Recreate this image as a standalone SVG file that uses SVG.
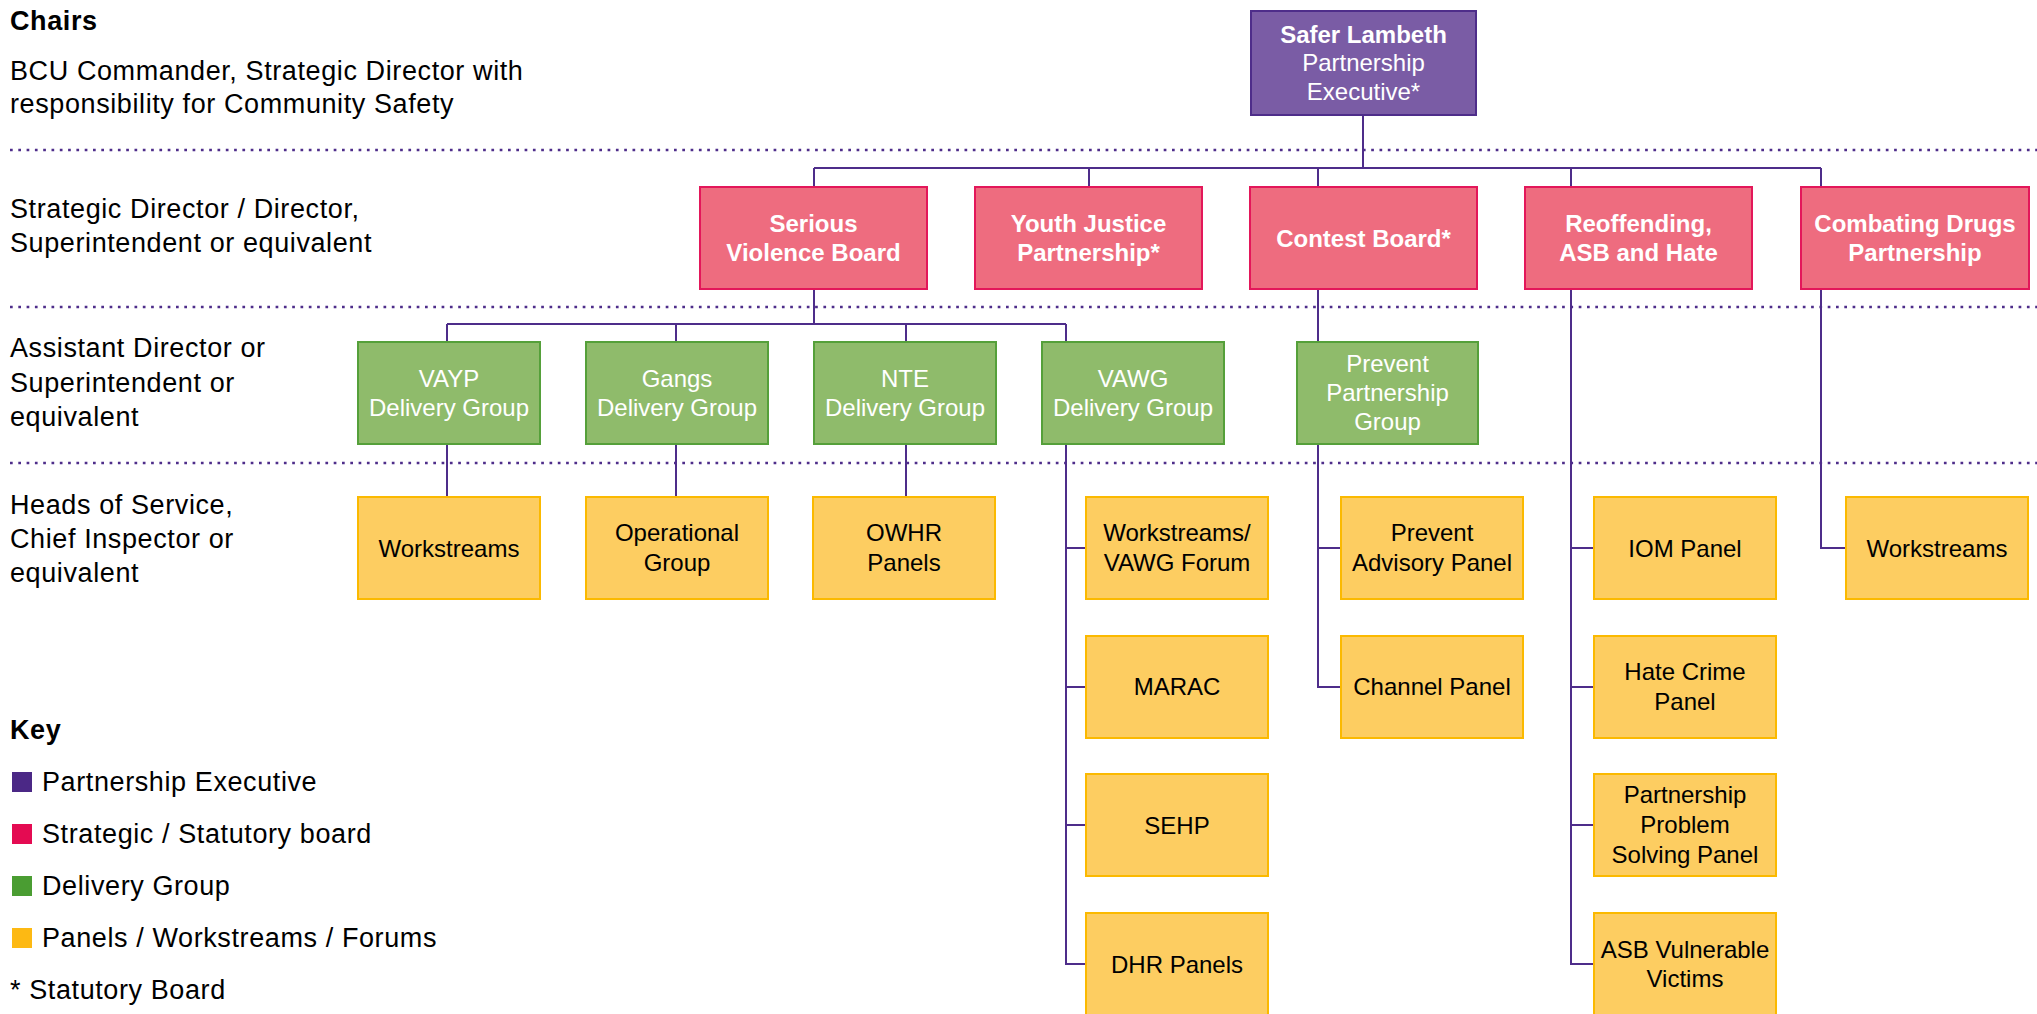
<svg xmlns="http://www.w3.org/2000/svg" width="2037" height="1014" viewBox="0 0 2037 1014">
<style>
  text { font-family: "Liberation Sans", Arial, sans-serif; }
  .lbl { font-size: 27px; fill: #000; letter-spacing: 0.6px; }
  .b { font-weight: bold; }
  .nt { font-size: 24px; text-anchor: middle; }
  .w { fill: #fff; }
  .k { fill: #000; }
  .exec { fill: #7A5CA5; stroke: #4E2D8A; stroke-width: 2; }
  .board { fill: #EE6C7F; stroke: #E3175A; stroke-width: 2; }
  .dg { fill: #8FBB6B; stroke: #55A03A; stroke-width: 2; }
  .pan { fill: #FDCD61; stroke: #FBB900; stroke-width: 2; }
  .conn { fill: none; stroke: #4E2D8A; stroke-width: 2; }
  .dot { fill: none; stroke: #4E2D8A; stroke-width: 2.7; stroke-dasharray: 2.7 5.6; }
</style>
<rect width="2037" height="1014" fill="#fff"/>

<g id="tiers">
  <line class="dot" x1="10" y1="150" x2="2037" y2="150"/>
  <line class="dot" x1="10" y1="307" x2="2037" y2="307"/>
  <line class="dot" x1="10" y1="463" x2="2037" y2="463"/>
  <text class="lbl b" x="10" y="30">Chairs</text>
  <text class="lbl" x="10" y="80">BCU Commander, Strategic Director with</text>
  <text class="lbl" x="10" y="113">responsibility for Community Safety</text>
  <text class="lbl" x="10" y="218">Strategic Director / Director,</text>
  <text class="lbl" x="10" y="252">Superintendent or equivalent</text>
  <text class="lbl" x="10" y="357">Assistant Director or</text>
  <text class="lbl" x="10" y="392">Superintendent or</text>
  <text class="lbl" x="10" y="426">equivalent</text>
  <text class="lbl" x="10" y="514">Heads of Service,</text>
  <text class="lbl" x="10" y="548">Chief Inspector or</text>
  <text class="lbl" x="10" y="582">equivalent</text>
</g>

<g id="connectors">
  <path class="conn" d="M1363 116 V168 M814 168 H1821 M814 168 V187 M1089 168 V187"/>
  <path class="conn" d="M1318 168 V687 H1341 M1318 548 H1341"/>
  <path class="conn" d="M1571 168 V964 H1594 M1571 548 H1594 M1571 687 H1594 M1571 825 H1594"/>
  <path class="conn" d="M1821 168 V548 H1846"/>
  <path class="conn" d="M814 289 V324 M447 324 H1066 M447 324 V342 M676 324 V342 M906 324 V342"/>
  <path class="conn" d="M1066 324 V964 H1086 M1066 548 H1086 M1066 687 H1086 M1066 825 H1086"/>
  <path class="conn" d="M447 444 V497 M676 444 V497 M906 444 V497"/>
</g>

<g id="safer-lambeth">
  <rect class="exec" x="1251" y="11" width="225" height="104"/>
  <text class="nt w b" x="1363.5" y="43">Safer Lambeth</text>
  <text class="nt w" x="1363.5" y="71">Partnership</text>
  <text class="nt w" x="1363.5" y="100">Executive*</text>
</g>

<g id="serious-violence-board">
  <rect class="board" x="700" y="187" width="227" height="102"/>
  <text class="nt w b" x="813.5" y="232">Serious</text>
  <text class="nt w b" x="813.5" y="261">Violence Board</text>
</g>
<g id="youth-justice">
  <rect class="board" x="975" y="187" width="227" height="102"/>
  <text class="nt w b" x="1088.5" y="232">Youth Justice</text>
  <text class="nt w b" x="1088.5" y="261">Partnership*</text>
</g>
<g id="contest-board">
  <rect class="board" x="1250" y="187" width="227" height="102"/>
  <text class="nt w b" x="1363.5" y="247">Contest Board*</text>
</g>
<g id="reoffending">
  <rect class="board" x="1525" y="187" width="227" height="102"/>
  <text class="nt w b" x="1638.5" y="232">Reoffending,</text>
  <text class="nt w b" x="1638.5" y="261">ASB and Hate</text>
</g>
<g id="combating-drugs">
  <rect class="board" x="1801" y="187" width="228" height="102"/>
  <text class="nt w b" x="1915" y="232">Combating Drugs</text>
  <text class="nt w b" x="1915" y="261">Partnership</text>
</g>

<g id="vayp">
  <rect class="dg" x="358" y="342" width="182" height="102"/>
  <text class="nt w" x="449" y="387">VAYP</text>
  <text class="nt w" x="449" y="416">Delivery Group</text>
</g>
<g id="gangs">
  <rect class="dg" x="586" y="342" width="182" height="102"/>
  <text class="nt w" x="677" y="387">Gangs</text>
  <text class="nt w" x="677" y="416">Delivery Group</text>
</g>
<g id="nte">
  <rect class="dg" x="814" y="342" width="182" height="102"/>
  <text class="nt w" x="905" y="387">NTE</text>
  <text class="nt w" x="905" y="416">Delivery Group</text>
</g>
<g id="vawg">
  <rect class="dg" x="1042" y="342" width="182" height="102"/>
  <text class="nt w" x="1133" y="387">VAWG</text>
  <text class="nt w" x="1133" y="416">Delivery Group</text>
</g>
<g id="prevent-partnership">
  <rect class="dg" x="1297" y="342" width="181" height="102"/>
  <text class="nt w" x="1387.5" y="372">Prevent</text>
  <text class="nt w" x="1387.5" y="401">Partnership</text>
  <text class="nt w" x="1387.5" y="430">Group</text>
</g>

<g id="workstreams-vayp">
  <rect class="pan" x="358" y="497" width="182" height="102"/>
  <text class="nt k" x="449" y="557">Workstreams</text>
</g>
<g id="operational-group">
  <rect class="pan" x="586" y="497" width="182" height="102"/>
  <text class="nt k" x="677" y="541">Operational</text>
  <text class="nt k" x="677" y="571">Group</text>
</g>
<g id="owhr">
  <rect class="pan" x="813" y="497" width="182" height="102"/>
  <text class="nt k" x="904" y="541">OWHR</text>
  <text class="nt k" x="904" y="571">Panels</text>
</g>
<g id="vawg-forum">
  <rect class="pan" x="1086" y="497" width="182" height="102"/>
  <text class="nt k" x="1177" y="541">Workstreams/</text>
  <text class="nt k" x="1177" y="571">VAWG Forum</text>
</g>
<g id="marac">
  <rect class="pan" x="1086" y="636" width="182" height="102"/>
  <text class="nt k" x="1177" y="695">MARAC</text>
</g>
<g id="sehp">
  <rect class="pan" x="1086" y="774" width="182" height="102"/>
  <text class="nt k" x="1177" y="834">SEHP</text>
</g>
<g id="dhr">
  <rect class="pan" x="1086" y="913" width="182" height="102"/>
  <text class="nt k" x="1177" y="973">DHR Panels</text>
</g>
<g id="prevent-advisory">
  <rect class="pan" x="1341" y="497" width="182" height="102"/>
  <text class="nt k" x="1432" y="541">Prevent</text>
  <text class="nt k" x="1432" y="571">Advisory Panel</text>
</g>
<g id="channel">
  <rect class="pan" x="1341" y="636" width="182" height="102"/>
  <text class="nt k" x="1432" y="695">Channel Panel</text>
</g>
<g id="iom">
  <rect class="pan" x="1594" y="497" width="182" height="102"/>
  <text class="nt k" x="1685" y="557">IOM Panel</text>
</g>
<g id="hate-crime">
  <rect class="pan" x="1594" y="636" width="182" height="102"/>
  <text class="nt k" x="1685" y="680">Hate Crime</text>
  <text class="nt k" x="1685" y="710">Panel</text>
</g>
<g id="ppsp">
  <rect class="pan" x="1594" y="774" width="182" height="102"/>
  <text class="nt k" x="1685" y="803">Partnership</text>
  <text class="nt k" x="1685" y="833">Problem</text>
  <text class="nt k" x="1685" y="863">Solving Panel</text>
</g>
<g id="asb">
  <rect class="pan" x="1594" y="913" width="182" height="102"/>
  <text class="nt k" x="1685" y="958">ASB Vulnerable</text>
  <text class="nt k" x="1685" y="987">Victims</text>
</g>
<g id="workstreams-drugs">
  <rect class="pan" x="1846" y="497" width="182" height="102"/>
  <text class="nt k" x="1937" y="557">Workstreams</text>
</g>

<g id="key">
  <text class="lbl b" x="10" y="739">Key</text>
  <rect x="12" y="772" width="20" height="20" fill="#4B2886"/>
  <text class="lbl" x="42" y="791">Partnership Executive</text>
  <rect x="12" y="824" width="20" height="20" fill="#E40B52"/>
  <text class="lbl" x="42" y="843">Strategic / Statutory board</text>
  <rect x="12" y="876" width="20" height="20" fill="#4A9D32"/>
  <text class="lbl" x="42" y="895">Delivery Group</text>
  <rect x="12" y="928" width="20" height="20" fill="#FDB913"/>
  <text class="lbl" x="42" y="947">Panels / Workstreams / Forums</text>
  <text class="lbl" x="10" y="999">* Statutory Board</text>
</g>
</svg>
